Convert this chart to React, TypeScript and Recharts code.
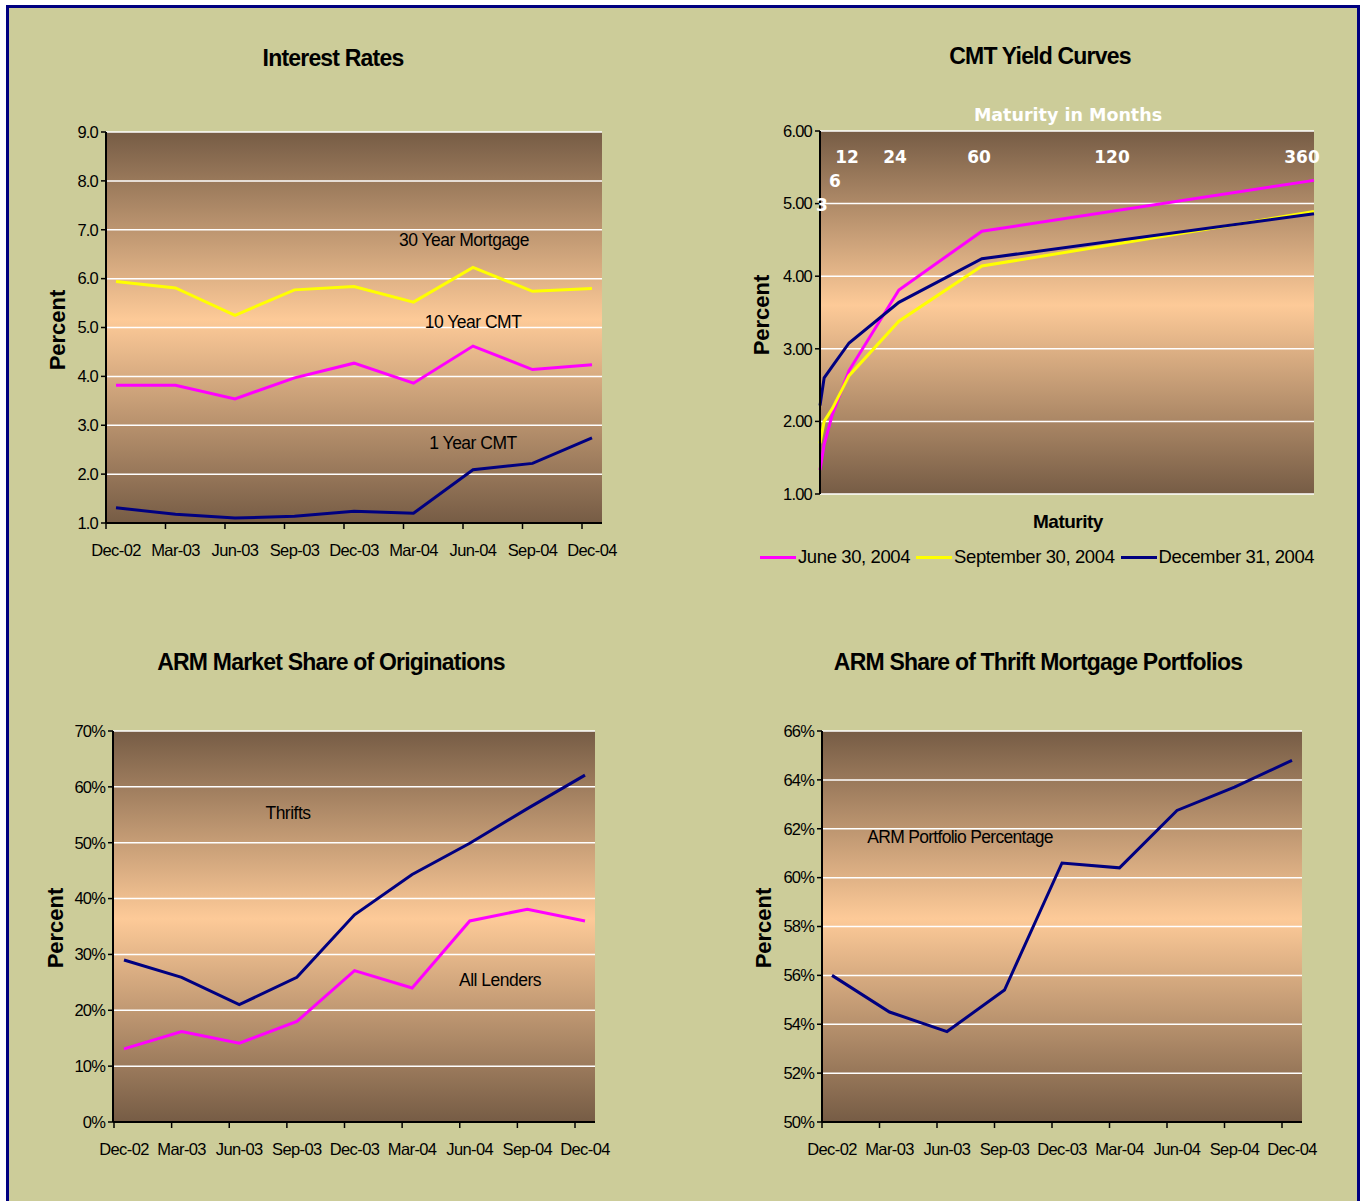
import React from 'react';
import { CartesianGrid, Line, LineChart, XAxis, YAxis } from 'recharts';

const quarters = ['Dec-02', 'Mar-03', 'Jun-03', 'Sep-03', 'Dec-03', 'Mar-04', 'Jun-04', 'Sep-04', 'Dec-04'];

// Interest Rates
const mortgage30 = [5.94, 5.81, 5.25, 5.77, 5.84, 5.52, 6.23, 5.74, 5.8];
const cmt10 = [3.82, 3.82, 3.54, 3.97, 4.27, 3.86, 4.62, 4.14, 4.24];
const cmt1 = [1.31, 1.18, 1.1, 1.14, 1.24, 1.2, 2.09, 2.22, 2.74];
const rateTicks = [1, 2, 3, 4, 5, 6, 7, 8, 9];

// CMT Yield Curves
const maturities = [3, 6, 12, 24, 60, 120, 360];
const june2004 = [1.33, 1.68, 2.1, 2.7, 3.81, 4.62, 5.32];
const sept2004 = [1.7, 2.0, 2.18, 2.63, 3.38, 4.14, 4.89];
const dec2004 = [2.22, 2.6, 2.76, 3.08, 3.64, 4.24, 4.86];
const yieldTicks = [1, 2, 3, 4, 5, 6];
const maturityLabels = ['3', '6', '12', '24', '60', '120', '360'];

// ARM Market Share of Originations
const thrifts = [29.0, 25.9, 21.0, 25.9, 37.1, 44.3, 49.9, 56.1, 62.1];
const allLenders = [13.1, 16.2, 14.1, 18.0, 27.1, 24.0, 36.0, 38.1, 36.0];
const shareTicks = [0, 10, 20, 30, 40, 50, 60, 70];

// ARM Share of Thrift Mortgage Portfolios
const armPortfolio = [56.0, 54.5, 53.7, 55.4, 60.6, 60.4, 62.75, 63.7, 64.8];
const portfolioTicks = [50, 52, 54, 56, 58, 60, 62, 64, 66];

const MAGENTA = '#ff00ff';
const YELLOW = '#ffff00';
const NAVY = '#000080';
const BG = '#cccc99';
const FONT = '"Liberation Sans", Arial, sans-serif';
const WIDE = '"DejaVu Sans", Verdana, sans-serif';
const YW = 60;

const ratesData = quarters.map((q, i) => ({ q, m30: mortgage30[i], c10: cmt10[i], c1: cmt1[i] }));
const curveData = maturities.map((m, i) => ({ m, jun: june2004[i], sep: sept2004[i], dec: dec2004[i] }));
const shareData = quarters.map((q, i) => ({ q, thr: thrifts[i], all: allLenders[i] }));
const portData = quarters.map((q, i) => ({ q, arm: armPortfolio[i] }));

type Box = { x: number; y: number; w: number; h: number };
type Plot = { x0: number; x1: number; y0: number; y1: number };

const marginFor = (b: Box, p: Plot, xh: number) => ({
  top: p.y0 - b.y,
  left: p.x0 - b.x - YW,
  right: b.x + b.w - p.x1,
  bottom: b.y + b.h - p.y1 - xh,
});

const Txt = ({
  x, y, children, size = 17.5, bold = false, color = '#000', family = FONT, ls = -0.5, rotate = false,
}: any) => (
  <div
    style={{
      position: 'absolute',
      left: x,
      top: y,
      transform: `translate(-50%, -50%)${rotate ? ' rotate(-90deg)' : ''}`,
      fontFamily: family,
      fontSize: size,
      fontWeight: bold ? 700 : 400,
      color,
      letterSpacing: ls,
      whiteSpace: 'nowrap',
      lineHeight: 1,
    }}
  >
    {children}
  </div>
);

const Title = ({ x, y, children }: any) => (
  <Txt x={x} y={y} size={23} bold ls={-0.8}>{children}</Txt>
);

const Gradient = ({ id }: { id: string }) => (
  <defs>
    <linearGradient id={id} x1="0" y1="0" x2="0" y2="1">
      <stop offset="0" stopColor="#765c45" />
      <stop offset="0.48" stopColor="#fdca98" />
      <stop offset="1" stopColor="#765c45" />
    </linearGradient>
  </defs>
);

const QuarterTick = (props: any) => {
  const { x, y, payload } = props;
  return (
    <g>
      <line x1={x - 10} y1={y} x2={x - 10} y2={y + 6} stroke="#000" strokeWidth={1.5} />
      <text x={x} y={y + 33} textAnchor="middle" fontSize={16.5} fontFamily={FONT} fill="#000" letterSpacing={-0.6}>
        {payload.value}
      </text>
    </g>
  );
};

const yTickStyle = { fontSize: 16.5, fontFamily: FONT, fill: '#000', letterSpacing: -0.8 };

const QuarterChart = ({
  box, plot, data, domain, ticks, fmt, padding, gid, series,
}: any) => (
  <div style={{ position: 'absolute', left: box.x, top: box.y }}>
    <LineChart width={box.w} height={box.h} data={data} margin={marginFor(box, plot, 40)}>
      <Gradient id={gid} />
      <CartesianGrid vertical={false} stroke="#ffffff" strokeWidth={1.5} fill={`url(#${gid})`} fillOpacity={1} />
      <XAxis
        dataKey="q"
        height={40}
        padding={padding}
        tickSize={0}
        tickMargin={0}
        tickLine={false}
        interval={0}
        axisLine={{ stroke: '#000', strokeWidth: 2 }}
        tick={(p: any) => <QuarterTick {...p} />}
      />
      <XAxis xAxisId="top" dataKey="q" orientation="top" height={0} padding={padding} tick={false} tickLine={false} axisLine={{ stroke: '#8c8c8c', strokeWidth: 2 }} />
      <YAxis
        width={YW}
        domain={domain}
        ticks={ticks}
        interval={0}
        tickFormatter={fmt}
        tickSize={5}
        tickMargin={3}
        tick={yTickStyle}
        tickLine={{ stroke: '#000', strokeWidth: 1.5 }}
        axisLine={{ stroke: '#000', strokeWidth: 2 }}
      />
      <YAxis yAxisId="right" orientation="right" width={0} domain={domain} tick={false} tickLine={false} axisLine={{ stroke: '#8c8c8c', strokeWidth: 2 }} />
      {series.map((s: any) => (
        <Line key={s.key} dataKey={s.key} stroke={s.color} strokeWidth={3} dot={false} isAnimationActive={false} />
      ))}
    </LineChart>
  </div>
);

const curveBox = { x: 680, y: 0, w: 681, h: 600 };
const curvePlot = { x0: 820, x1: 1314, y0: 131, y1: 494 };

// where the white maturity captions sit in the top band of the yield chart
const captionSpots = [
  [822, 205], [835, 181], [847, 157], [895, 157], [979, 157], [1112, 157], [1302, 157],
];

const curveSeries = [
  { key: 'jun', name: 'June 30, 2004', color: MAGENTA },
  { key: 'sep', name: 'September 30, 2004', color: YELLOW },
  { key: 'dec', name: 'December 31, 2004', color: NAVY },
];

export default function App() {
  return (
    <div style={{ position: 'absolute', left: 0, top: 0, width: 1361, height: 1201, overflow: 'hidden', background: '#fff' }}>
      <div
        style={{
          position: 'absolute',
          left: 6,
          top: 5,
          width: 1354,
          height: 1220,
          boxSizing: 'border-box',
          border: `3px solid ${NAVY}`,
          background: BG,
        }}
      />

      {/* Interest Rates */}
      <QuarterChart
        box={{ x: 0, y: 0, w: 680, h: 600 }}
        plot={{ x0: 106, x1: 602, y0: 132, y1: 523 }}
        data={ratesData}
        domain={[1, 9]}
        ticks={rateTicks}
        fmt={(v: number) => v.toFixed(1)}
        padding={{ left: 10, right: 10 }}
        gid="bgRates"
        series={[
          { key: 'm30', color: YELLOW },
          { key: 'c10', color: MAGENTA },
          { key: 'c1', color: NAVY },
        ]}
      />
      <Title x={333} y={58}>Interest Rates</Title>
      <Txt x={58} y={330} size={22} bold ls={0} rotate>Percent</Txt>
      <Txt x={464} y={241}>30 Year Mortgage</Txt>
      <Txt x={473} y={323}>10 Year CMT</Txt>
      <Txt x={473} y={444}>1 Year CMT</Txt>

      {/* CMT Yield Curves */}
      <div style={{ position: 'absolute', left: curveBox.x, top: curveBox.y }}>
        <LineChart width={curveBox.w} height={curveBox.h} data={curveData} margin={marginFor(curveBox, curvePlot, 0)}>
          <Gradient id="bgCurve" />
          <CartesianGrid vertical={false} stroke="#ffffff" strokeWidth={1.5} fill="url(#bgCurve)" fillOpacity={1} />
          <XAxis dataKey="m" type="number" domain={[3, 360]} height={0} tick={false} tickLine={false} axisLine={{ stroke: '#8c8c8c', strokeWidth: 2 }} />
          <XAxis xAxisId="top" dataKey="m" type="number" domain={[3, 360]} orientation="top" height={0} tick={false} tickLine={false} axisLine={{ stroke: '#8c8c8c', strokeWidth: 2 }} />
          <YAxis
            width={YW}
            domain={[1, 6]}
            ticks={yieldTicks}
            interval={0}
            tickFormatter={(v: number) => v.toFixed(2)}
            tickSize={5}
            tickMargin={3}
            tick={yTickStyle}
            tickLine={{ stroke: '#000', strokeWidth: 1.5 }}
            axisLine={{ stroke: '#000', strokeWidth: 2 }}
          />
          <YAxis yAxisId="right" orientation="right" width={0} domain={[1, 6]} tick={false} tickLine={false} axisLine={{ stroke: '#8c8c8c', strokeWidth: 2 }} />
          {curveSeries.map((s) => (
            <Line key={s.key} dataKey={s.key} stroke={s.color} strokeWidth={3} dot={false} isAnimationActive={false} />
          ))}
        </LineChart>
      </div>
      <Title x={1040} y={56}>CMT Yield Curves</Title>
      <Txt x={762} y={315} size={22} bold ls={0} rotate>Percent</Txt>
      <Txt x={1068} y={116} size={17.5} bold ls={0} color="#fff" family={WIDE}>Maturity in Months</Txt>
      {maturityLabels.map((m, i) => (
        <Txt key={m} x={captionSpots[i][0]} y={captionSpots[i][1]} size={17} bold ls={0} color="#fff" family={WIDE}>{m}</Txt>
      ))}
      <Txt x={1068} y={521} size={19} bold>Maturity</Txt>
      <div style={{ position: 'absolute', left: 760, top: 546, display: 'flex', alignItems: 'center', fontFamily: FONT, fontSize: 18.5, letterSpacing: -0.4, whiteSpace: 'nowrap', lineHeight: '22px' }}>
        {curveSeries.map((s) => (
          <div key={s.key} style={{ display: 'flex', alignItems: 'center', marginRight: 6 }}>
            <div style={{ width: 36, height: 3, background: s.color, marginRight: 2 }} />
            <span>{s.name}</span>
          </div>
        ))}
      </div>

      {/* ARM Market Share of Originations */}
      <QuarterChart
        box={{ x: 0, y: 600, w: 680, h: 601 }}
        plot={{ x0: 113, x1: 595, y0: 731, y1: 1122 }}
        data={shareData}
        domain={[0, 70]}
        ticks={shareTicks}
        fmt={(v: number) => `${v}%`}
        padding={{ left: 11, right: 10 }}
        gid="bgShare"
        series={[
          { key: 'thr', color: NAVY },
          { key: 'all', color: MAGENTA },
        ]}
      />
      <Title x={331} y={662}>ARM Market Share of Originations</Title>
      <Txt x={56} y={928} size={22} bold ls={0} rotate>Percent</Txt>
      <Txt x={288} y={814}>Thrifts</Txt>
      <Txt x={500} y={981}>All Lenders</Txt>

      {/* ARM Share of Thrift Mortgage Portfolios */}
      <QuarterChart
        box={{ x: 680, y: 600, w: 681, h: 601 }}
        plot={{ x0: 822, x1: 1302, y0: 731, y1: 1122 }}
        data={portData}
        domain={[50, 66]}
        ticks={portfolioTicks}
        fmt={(v: number) => `${v}%`}
        padding={{ left: 10, right: 10 }}
        gid="bgPort"
        series={[{ key: 'arm', color: NAVY }]}
      />
      <Title x={1038} y={662}>ARM Share of Thrift Mortgage Portfolios</Title>
      <Txt x={764} y={928} size={22} bold ls={0} rotate>Percent</Txt>
      <Txt x={960} y={838} ls={-0.7}>ARM Portfolio Percentage</Txt>
    </div>
  );
}
